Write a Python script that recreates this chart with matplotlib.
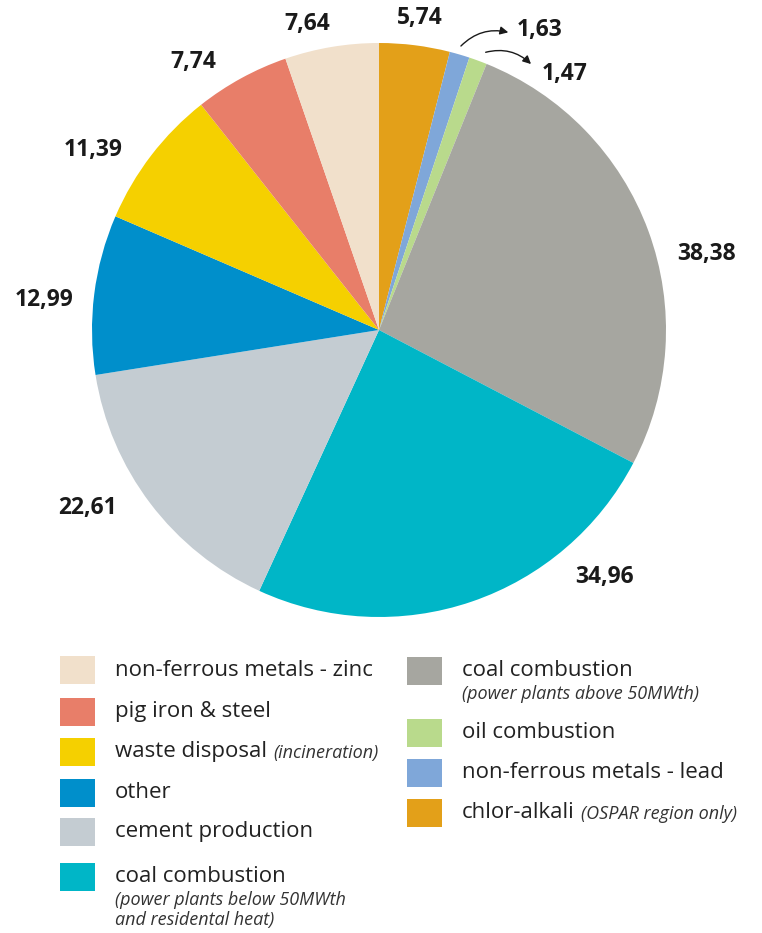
import numpy as np
import matplotlib.pyplot as plt

# wedges clockwise from 12 o'clock
sources = ['chlor-alkali', 'non-ferrous metals - lead', 'oil combustion',
           'coal combustion (above 50MWth)', 'coal combustion (below 50MWth)',
           'cement production', 'other', 'waste disposal', 'pig iron & steel',
           'non-ferrous metals - zinc']
values = [5.74, 1.63, 1.47, 38.38, 34.96, 22.61, 12.99, 11.39, 7.74, 7.64]
value_labels = ['5,74', '1,63', '1,47', '38,38', '34,96', '22,61', '12,99', '11,39', '7,74', '7,64']
colors = ['#E3A019', '#7FA7D9', '#B9DA8C', '#A6A6A0', '#00B6C7',
          '#C4CCD2', '#008FCB', '#F5D000', '#E87E69', '#F1E0CB']

# legend entries: (index into sources, main text, italic note)
legend_left = [(9, 'non-ferrous metals - zinc', ''),
               (8, 'pig iron & steel', ''),
               (7, 'waste disposal', '(incineration)'),
               (6, 'other', ''),
               (5, 'cement production', ''),
               (4, 'coal combustion', '(power plants below 50MWth\nand residental heat)')]
legend_right = [(3, 'coal combustion', '(power plants above 50MWth)'),
                (2, 'oil combustion', ''),
                (1, 'non-ferrous metals - lead', ''),
                (0, 'chlor-alkali', '(OSPAR region only)')]

W, H = 762, 933
fig = plt.figure(figsize=(W / 100, H / 100), dpi=100)
ax = fig.add_axes([0, 0, 1, 1])
ax.set_xlim(0, W)
ax.set_ylim(H, 0)
ax.axis('off')

# pie drawn in its own axes so the y direction is normal
cx, cy, r = 379, 330, 287
pax = fig.add_axes([(cx - r) / W, 1 - (cy + r) / H, 2 * r / W, 2 * r / H])
pax.pie(values, colors=colors, startangle=90, counterclock=False,
        wedgeprops=dict(linewidth=0))
pax.set_xlim(-1, 1)
pax.set_ylim(-1, 1)
pax.set_aspect('equal')
pax.axis('off')

# label positions (pixels) picked to match the reference
label_pos = [(420, 18), (540, 30), (565, 74), (707, 254), (604, 577),
             (88, 508), (44, 300), (93, 150), (193, 62), (307, 24)]
for lab, (x, y) in zip(value_labels, label_pos):
    ax.text(x, y, lab, ha='center', va='center', fontsize=16.5,
            fontweight='bold', family='Open Sans', color='#1a1a1a')

# little arrows for the two thin wedges
ax.annotate('', xy=(511, 33), xytext=(459, 48),
            arrowprops=dict(arrowstyle='-|>', color='#1a1a1a', lw=1,
                            connectionstyle='arc3,rad=-0.3', mutation_scale=12))
ax.annotate('', xy=(533, 66), xytext=(483, 53),
            arrowprops=dict(arrowstyle='-|>', color='#1a1a1a', lw=1,
                            connectionstyle='arc3,rad=-0.3', mutation_scale=12))

def draw_legend(entries, x0, rows):
    for (i, name, note), y in zip(entries, rows):
        ax.add_patch(plt.Rectangle((x0, y - 14), 35, 28, color=colors[i], lw=0))
        t = ax.text(x0 + 55, y, name, ha='left', va='center', fontsize=16,
                    family='Open Sans', color='#222222')
        if note:
            if name == 'coal combustion':
                ax.text(x0 + 55, y + 14, note, ha='left', va='top', fontsize=13,
                        style='italic', family='Open Sans', color='#333333',
                        linespacing=1.15)
            else:
                fig.canvas.draw()
                bb = t.get_window_extent().transformed(ax.transData.inverted())
                ax.text(bb.x1 + 6, y + 1, note, ha='left', va='center', fontsize=13,
                        style='italic', family='Open Sans', color='#333333')

draw_legend(legend_left, 60, [670, 712, 752, 793, 832, 877])
draw_legend(legend_right, 407, [671, 733, 773, 813])

fig.savefig('out.png', dpi=100)
